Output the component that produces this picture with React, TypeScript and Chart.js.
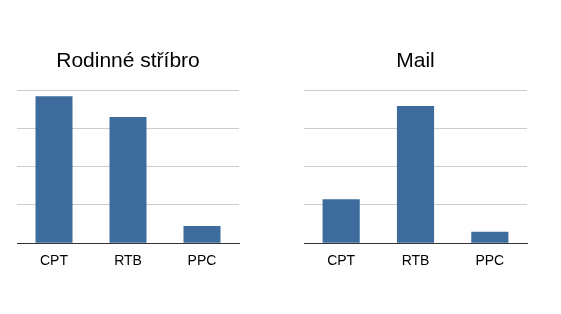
import React, { useEffect, useRef } from "react";
import { Chart, registerables } from "chart.js";

Chart.register(...registerables);

const categories = ["CPT", "RTB", "PPC"];
const leftTitle = "Rodinné stříbro";
const leftValues = [3.84, 3.3, 0.45];
const rightTitle = "Mail";
const rightValues = [1.15, 3.59, 0.3];
const yMax = 4;

const BAR = "#3c6b9c";

function BarPanel(props: { title: string; values: number[]; left: number; width: number; padL: number; padR: number }) {
  const ref = useRef<HTMLCanvasElement>(null);
  useEffect(() => {
    if (!ref.current) return;
    const chart = new Chart(ref.current, {
      type: "bar",
      data: {
        labels: categories,
        datasets: [
          {
            data: props.values,
            backgroundColor: BAR,
            borderWidth: 0,
            barPercentage: 0.5,
            categoryPercentage: 1,
          },
        ],
      },
      options: {
        animation: false,
        responsive: false,
        maintainAspectRatio: false,
        layout: { padding: { top: 49, bottom: 34, left: props.padL, right: props.padR } },
        plugins: {
          legend: { display: false },
          tooltip: { enabled: false },
          title: {
            display: true,
            text: props.title,
            color: "#000",
            font: { family: "Liberation Sans, Arial, sans-serif", size: 21, weight: "normal" },
            padding: { top: 0, bottom: 16 },
          },
        },
        scales: {
          x: {
            grid: { display: false, drawTicks: false },
            border: { display: true, color: "#333", width: 1 },
            ticks: {
              color: "#000",
              padding: 10,
              font: { family: "Liberation Sans, Arial, sans-serif", size: 14 },
            },
          },
          y: {
            min: 0,
            max: yMax,
            ticks: { display: false, stepSize: 1 },
            grid: {
              drawTicks: false,
              color: (c: any) => (c.tick && c.tick.value === 0 ? "#333" : "#cccccc"),
              lineWidth: 1,
            },
            border: { display: false },
          },
        },
      },
    });
    return () => chart.destroy();
  }, []);
  return (
    <canvas
      ref={ref}
      width={props.width}
      height={314}
      style={{ position: "absolute", left: props.left, top: 0, width: props.width, height: 314 }}
    />
  );
}

export default function App() {
  return (
    <div style={{ position: "fixed", left: 0, top: 0, width: 561, height: 314, background: "#fff" }}>
      <BarPanel title={leftTitle} values={leftValues} left={0} width={280} padL={17} padR={41} />
      <BarPanel title={rightTitle} values={rightValues} left={280} width={281} padL={24} padR={34} />
    </div>
  );
}
